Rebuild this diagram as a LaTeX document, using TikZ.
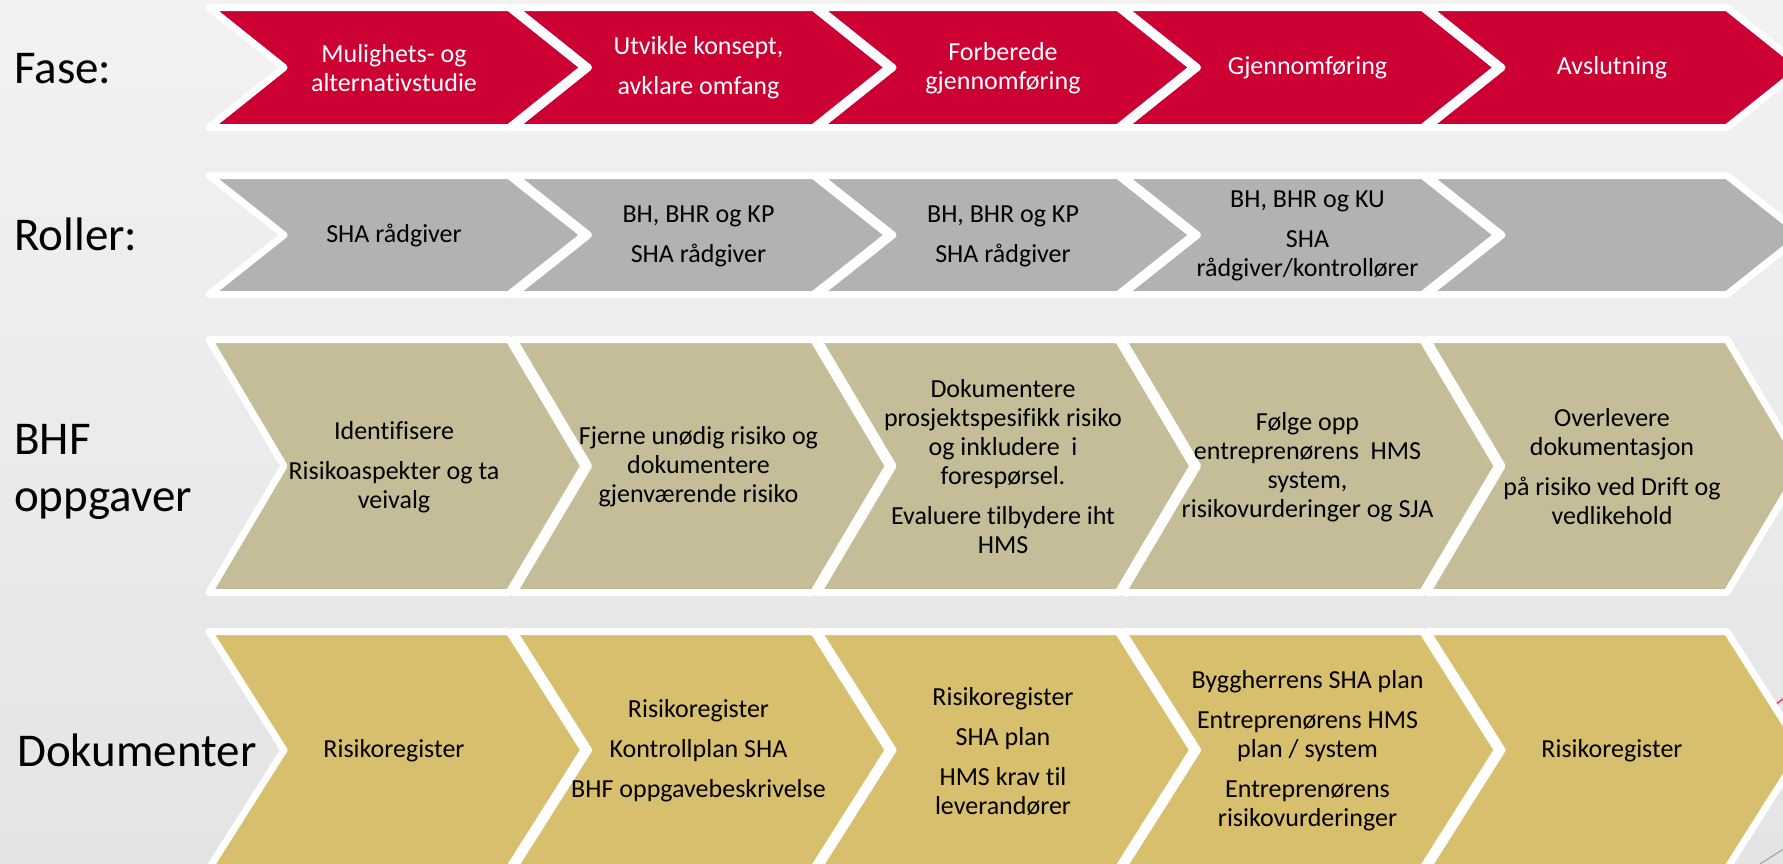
\documentclass[tikz,border=0pt]{standalone}
\usepackage{fontspec}
\setmainfont{Carlito}[Ligatures=NoCommon]
\definecolor{fasered}{RGB}{204,0,51}
\definecolor{rollgray}{RGB}{178,178,178}
\definecolor{bhftan}{RGB}{196,189,151}
\definecolor{dokgold}{RGB}{216,191,110}
\definecolor{bgtop}{RGB}{242,242,242}
\definecolor{bgbot}{RGB}{228,228,228}
\definecolor{decopink}{RGB}{190,80,115}
\newcommand\mkchev[4]{%
  \pgfmathsetmacro\cL{209+304.5*#1}%
  \pgfmathsetmacro\cR{\cL+300}%
  \pgfmathsetmacro\cM{(#2+#3)/2}%
  \draw[chevbox, fill=#4] (\cL,#2) -- (\cR,#2) -- (\cR+75,\cM) -- (\cR,#3) -- (\cL,#3) -- (\cL+75,\cM) -- cycle;
}
\tikzset{
  chevbox/.style={draw=white, line width=7pt, line join=round},
  ctext/.style={align=center, font=\fontsize{26}{29}\selectfont, inner sep=0pt},
  wtext/.style={ctext, text=white},
  lbl/.style={font=\fontsize{47}{57}\selectfont, inner sep=0pt, align=left},
}
\begin{document}
\begin{tikzpicture}[x=1pt, y=-1pt]
\useasboundingbox (0,0) rectangle (1783,863);
\clip (0,0) rectangle (1783,863);
\shade[top color=bgtop, bottom color=bgbot] (0,0) rectangle (1783,863);

% decorative background strokes
\draw[decopink!25, line width=5pt] (1764,713) -- (1790,694);
\draw[decopink, line width=1.5pt] (1764,713) -- (1790,694);
\draw[gray!70, line width=1.2pt] (1760,864) -- (1790,845);

% chevrons
\foreach \i in {0,...,4} {
  \mkchev{\i}{7.5}{127.5}{fasered}
  \mkchev{\i}{175.5}{294.5}{rollgray}
  \mkchev{\i}{339.5}{592.5}{bhftan}
  \mkchev{\i}{631.5}{868.5}{dokgold}
}

% row labels
\node[lbl, anchor=base west] (lfase) at (14,83) {Fase:};
\node[lbl, anchor=base west] (lroller) at (14,250) {Roller:};
\node[lbl, anchor=west] (lbhf) at (14,471.5) {BHF\\oppgaver};
\node[lbl, anchor=base west] (ldok) at (17,766) {Dokumenter};

% Fase
\node[wtext] (f1) at (394,68) {Mulighets- og\\alternativstudie};
\node[wtext] (f2) at (698.5,68) {Utvikle konsept,\\[11pt]avklare omfang};
\node[wtext] (f3) at (1003,68) {Forberede\\gjennomføring};
\node[wtext] (f4) at (1307.5,68) {Gjennomføring};
\node[wtext] (f5) at (1612,68) {Avslutning};

% Roller
\node[ctext] (r1) at (394,236) {SHA rådgiver};
\node[ctext] (r2) at (698.5,236) {BH, BHR og KP\\[11pt]SHA rådgiver};
\node[ctext] (r3) at (1003,236) {BH, BHR og KP\\[11pt]SHA rådgiver};
\node[ctext] (r4) at (1307.5,236) {BH, BHR og KU\\[11pt]SHA\\rådgiver/kontrollører};

% BHF oppgaver
\node[ctext] (b1) at (394,467) {Identifisere\\[11pt]Risikoaspekter og ta\\veivalg};
\node[ctext] (b2) at (698.5,467) {Fjerne unødig risiko og\\dokumentere\\gjenværende risiko};
\node[ctext] (b3) at (1003,467) {Dokumentere\\prosjektspesifikk risiko\\og inkludere\ \ i\\forespørsel.\\[11pt]Evaluere tilbydere iht\\HMS};
\node[ctext] (b4) at (1307.5,467) {Følge opp\\entreprenørens\ \ HMS\\system,\\risikovurderinger og SJA};
\node[ctext] (b5) at (1612,467) {Overlevere\\dokumentasjon\\[11pt]på risiko ved Drift og\\vedlikehold};

% Dokumenter
\node[ctext] (d1) at (394,751) {Risikoregister};
\node[ctext] (d2) at (698.5,751) {Risikoregister\\[11pt]Kontrollplan SHA\\[11pt]BHF oppgavebeskrivelse};
\node[ctext] (d3) at (1003,751) {Risikoregister\\[11pt]SHA plan\\[11pt]HMS krav til\\leverandører};
\node[ctext] (d4) at (1307.5,751) {Byggherrens SHA plan\\[11pt]Entreprenørens HMS\\plan / system\\[11pt]Entreprenørens\\risikovurderinger};
\node[ctext] (d5) at (1612,751) {Risikoregister};
\end{tikzpicture}
\end{document}
